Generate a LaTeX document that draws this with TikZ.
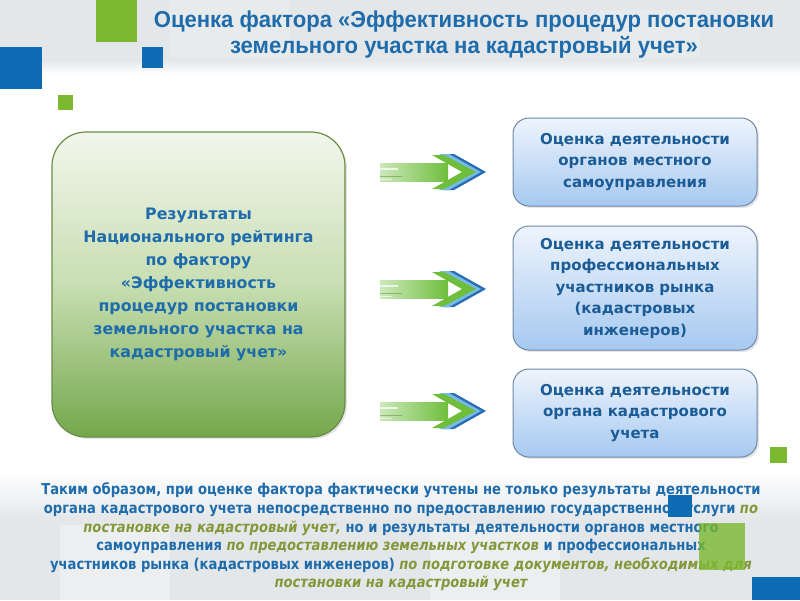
\documentclass[tikz,border=0pt]{standalone}
\usepackage{fontspec}
\setmainfont{Liberation Sans}
\newfontfamily\titlefont[FakeStretch=0.96]{Liberation Sans}
\newfontfamily\boxfont{DejaVu Sans}
\newfontfamily\bodyfont[FakeStretch=0.875]{DejaVu Sans}
\usetikzlibrary{shadows}
\definecolor{tblue}{RGB}{30,108,172}
\definecolor{boxblue}{RGB}{28,92,150}
\definecolor{olive}{RGB}{134,150,58}
\definecolor{sqgreen}{RGB}{122,184,48}
\definecolor{sqblue}{RGB}{14,108,180}
\definecolor{bandgray}{RGB}{228,231,233}
\definecolor{agreen}{RGB}{110,190,60}
\definecolor{alight}{RGB}{120,185,230}
\definecolor{adark}{RGB}{40,110,180}
\definecolor{gtop}{RGB}{242,246,236}
\definecolor{gmid}{RGB}{200,222,178}
\definecolor{gbot}{RGB}{116,168,76}
\definecolor{gborder}{RGB}{105,140,70}
\definecolor{btop}{RGB}{238,244,252}
\definecolor{bbot}{RGB}{166,201,240}
\definecolor{bborder}{RGB}{110,136,168}
\tikzset{
  leftbox/.style={draw=gborder, line width=1.2pt, rounded corners=34pt,
    top color=gtop, bottom color=gbot, middle color=gmid,
    drop shadow={opacity=0.2, shadow xshift=2pt, shadow yshift=-2pt},
    text=tblue, align=center, font=\boxfont\bfseries\fontsize{15.8}{23}\selectfont},
  rightbox/.style={draw=bborder, line width=1pt, rounded corners=16pt,
    top color=btop, bottom color=bbot,
    drop shadow={opacity=0.2, shadow xshift=2pt, shadow yshift=-2pt},
    text=boxblue, align=center, minimum width=244pt,
    font=\boxfont\bfseries\fontsize{15}{21.5}\selectfont},
  sq/.style={fill=#1},
  fatarrow/.pic={
    \fill[left color=agreen!35, right color=agreen] (-52,-9) rectangle (16,9);
    \draw[white, opacity=0.7, line width=1.2pt] (-52,-3) -- (-34,-3);
    \draw[agreen!60!black, opacity=0.4, line width=1pt] (-52,4) -- (-30,4);
    \draw[white, opacity=0.6, line width=1pt] (-52,7) -- (-40,7);
    \fill[adark] (12,-18) -- (22,-18) -- (54,0) -- (22,18) -- (12,18) -- (44,0) -- cycle;
    \fill[alight] (7,-18) -- (17,-18) -- (49,0) -- (17,18) -- (7,18) -- (39,0) -- cycle;
    \fill[agreen] (0,-17) -- (12,-17) -- (44,0) -- (12,17) -- (0,17) -- (30,0) -- cycle;
  }
}
\begin{document}
\begin{tikzpicture}[x=1pt,y=-1pt]
\useasboundingbox (0,0) rectangle (800,600);
% background
\fill[white] (0,0) rectangle (800,600);
\fill[bandgray] (0,0) rectangle (800,60);
\shade[top color=bandgray, bottom color=white] (0,60) rectangle (800,74);
\fill[white, opacity=0.18] (170,0) rectangle (290,58);
\fill[white, opacity=0.18] (600,10) rectangle (700,58);
\shade[top color=white, bottom color=bandgray] (0,470) rectangle (800,520);
\fill[bandgray] (0,520) rectangle (800,600);
\fill[white, opacity=0.3] (60,525) rectangle (170,600);
\fill[white, opacity=0.3] (430,525) rectangle (560,600);
% decorative squares
\fill[sq=sqgreen] (96,0) rectangle (137,42);
\fill[sq=sqblue] (0,47) rectangle (42,89);
\fill[sq=sqblue] (142,47) rectangle (163,68);
\fill[sq=sqgreen] (58,95) rectangle (73,110);
\fill[sq=sqgreen] (770,447) rectangle (787,463);
\fill[sq=sqblue] (752,577) rectangle (800,600);
% title
\node[font=\titlefont\bfseries\fontsize{23}{26}\selectfont, text=tblue, align=center] (title) at (464,35)
  {Оценка фактора «Эффективность процедур постановки\\земельного участка на кадастровый учет»};
% left box
\node[leftbox, minimum width=293pt, minimum height=305pt] (res) at (198.5,284.5)
  {Результаты\\Национального рейтинга\\по фактору\\«Эффективность\\процедур постановки\\земельного участка на\\кадастровый учет»};
% right boxes
\node[rightbox, minimum height=88pt] (b1) at (635,162)
  {Оценка деятельности\\органов местного\\самоуправления};
\node[rightbox, minimum height=124pt] (b2) at (635,288)
  {Оценка деятельности\\профессиональных\\участников рынка\\(кадастровых\\инженеров)};
\node[rightbox, minimum height=88pt] (b3) at (635,413)
  {Оценка деятельности\\органа кадастрового\\учета};
% arrows
\coordinate (a1) at (432,172);
\coordinate (a2) at (432,289);
\coordinate (a3) at (432,411);
\pic at (a1) {fatarrow};
\pic at (a2) {fatarrow};
\pic at (a3) {fatarrow};
% bottom text
\node[font=\bodyfont\bfseries\fontsize{15}{18.6}\selectfont, text=tblue, align=center] (concl) at (401,537)
  {Таким образом, при оценке фактора фактически учтены не только результаты деятельности\\
   органа кадастрового учета непосредственно по предоставлению государственной услуги \textcolor{olive}{\itshape по}\\
   \textcolor{olive}{\itshape постановке на кадастровый учет,} но и результаты деятельности органов местного\\
   самоуправления \textcolor{olive}{\itshape по предоставлению земельных участков} и профессиональных\\
   участников рынка (кадастровых инженеров) \textcolor{olive}{\itshape по подготовке документов, необходимых для}\\
   \textcolor{olive}{\itshape постановки на кадастровый учет}};
% squares over text
\fill[sq=sqblue] (668,495) rectangle (692,517);
\fill[sq=sqgreen, opacity=0.8] (699,523) rectangle (745,570);
\end{tikzpicture}
\end{document}
